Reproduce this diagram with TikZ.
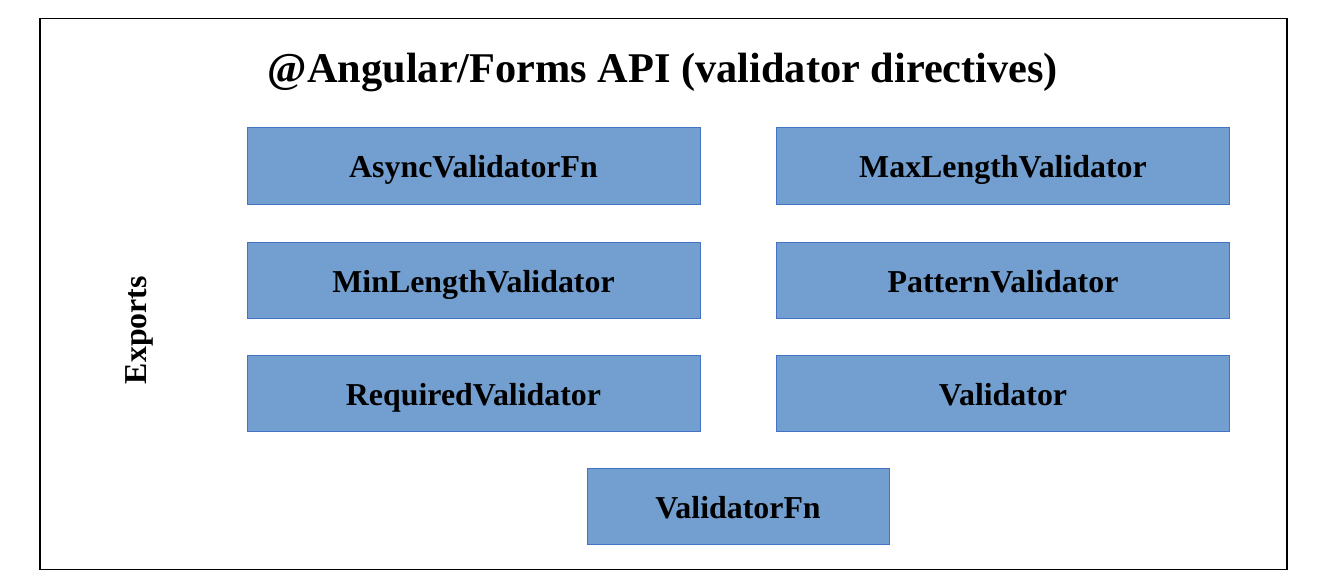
\documentclass[tikz,border=0pt]{standalone}
\usepackage{fontspec}
\setmainfont{Liberation Serif}
\definecolor{boxfill}{RGB}{114,159,207}
\definecolor{boxline}{RGB}{68,114,196}
\begin{document}
\begin{tikzpicture}[x=1bp,y=-1bp,
  exportbox/.style={draw=boxline, line width=1bp, fill=boxfill, minimum width=453bp, minimum height=76bp, inner sep=0pt,
    text height=24bp, text depth=0bp,
    font=\fontsize{32}{36}\selectfont\bfseries, text=black}]
\useasboundingbox (0,0) rectangle (1341,585);
\node[draw=black, line width=1.2bp, minimum width=1247bp, minimum height=551bp, inner sep=0pt] (frame) at (663.5,294) {};
\node[font=\fontsize{42.5}{48}\selectfont\bfseries, inner sep=0pt, text height=22bp, text depth=0bp] (title) at (663,72) {@Angular/Forms API (validator directives)};
\node[rotate=90, font=\fontsize{32}{36}\selectfont\bfseries] (exports) at (139,330) {Exports};
\node[exportbox] (b1) at (473.5,166) {AsyncValidatorFn};
\node[exportbox] (b2) at (1003,166) {MaxLengthValidator};
\node[exportbox] (b3) at (473.5,280) {MinLengthValidator};
\node[exportbox] (b4) at (1003,280) {PatternValidator};
\node[exportbox] (b5) at (473.5,393) {RequiredValidator};
\node[exportbox] (b6) at (1003,393) {Validator};
\node[exportbox, minimum width=302bp] (b7) at (738,506) {ValidatorFn};
\end{tikzpicture}
\end{document}
